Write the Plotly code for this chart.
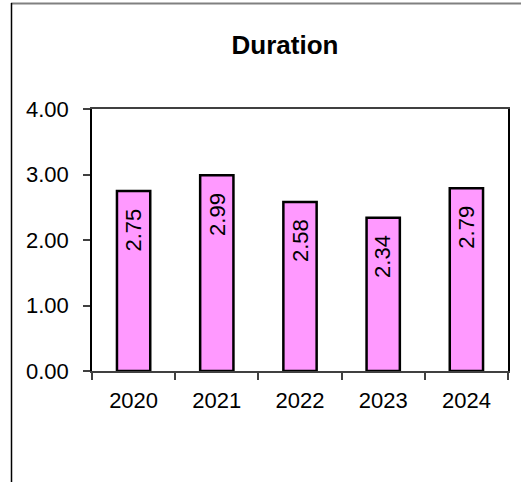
import plotly.graph_objects as go

# Chart data
years = ["2020", "2021", "2022", "2023", "2024"]
duration = [2.75, 2.99, 2.58, 2.34, 2.79]
y_ticks = [0, 1, 2, 3, 4]
y_tick_labels = ["0.00", "1.00", "2.00", "3.00", "4.00"]

FONT = "Arial, Liberation Sans, sans-serif"
W, H = 521, 482
L, R, T, B = 92, 13, 109, 111

fig = go.Figure()
fig.add_trace(go.Bar(
    x=years,
    y=duration,
    width=0.4,
    marker=dict(color="#FF99FF", line=dict(color="#000000", width=2.5)),
    hoverinfo="x+y",
))

# Value labels, rotated and placed just below each bar top
labels = [
    dict(x=i, y=v, xref="x", yref="y",
         text="%.2f" % v, textangle=-90, showarrow=False,
         xanchor="center", yanchor="middle", yshift=-39,
         font=dict(family=FONT, size=22, color="#000000"))
    for i, v in enumerate(duration)
]

# Outer chart frame (top and left edges)
pw, ph = W - L - R, H - T - B
def px_x(p):
    return (p - L) / pw
def px_y(p):
    return (H - B - p) / ph

frame = [
    dict(type="line", xref="paper", yref="paper",
         x0=px_x(11), x1=px_x(W + 2), y0=px_y(3.5), y1=px_y(3.5),
         line=dict(color="#808080", width=2)),
    dict(type="line", xref="paper", yref="paper",
         x0=px_x(11.5), x1=px_x(11.5), y0=px_y(3), y1=px_y(H + 2),
         line=dict(color="#000000", width=1.5)),
]

fig.update_layout(
    width=W, height=H,
    margin=dict(l=L, r=R, t=T, b=B, pad=0),
    paper_bgcolor="#FFFFFF", plot_bgcolor="#FFFFFF",
    showlegend=False,
    annotations=labels,
    shapes=frame,
    title=dict(text="<b>Duration</b>", x=285 / W, xanchor="center", xref="container",
               y=1 - 45 / H, yanchor="middle", yref="container",
               font=dict(family=FONT, size=26, color="#000000")),
    font=dict(family=FONT, size=22, color="#000000"),
)

fig.update_xaxes(
    type="category", range=[-0.5, 4.5],
    showgrid=False, zeroline=False,
    showline=True, linecolor="#404040", linewidth=2, mirror=True,
    ticks="outside", tickson="boundaries", ticklen=7, tickwidth=1.5, tickcolor="#404040",
    ticklabelstandoff=9,
    tickfont=dict(family=FONT, size=22, color="#000000"),
)
fig.update_yaxes(
    range=[0, 4], tickvals=y_ticks, ticktext=y_tick_labels,
    showgrid=False, zeroline=False,
    showline=True, linecolor="#000000", linewidth=1.5, mirror=True,
    ticks="outside", ticklen=7, tickwidth=1.5, tickcolor="#404040",
    ticklabelstandoff=10,
    tickfont=dict(family=FONT, size=22, color="#000000"),
)

fig.write_html("out.html")
